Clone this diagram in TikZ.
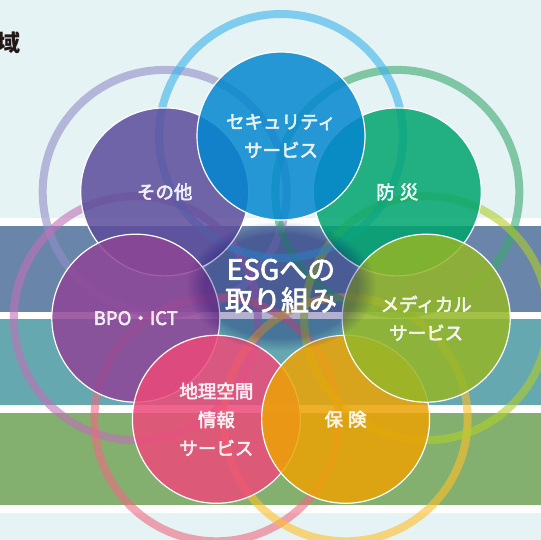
\documentclass[tikz,border=0pt]{standalone}
\usepackage{fontspec}
\setmainfont{Noto Sans CJK JP}
\usetikzlibrary{fadings}
\newcommand\strokeon[1]{\special{pdf:literal direct 2 Tr #1 w 1 1 1 RG}}
\newcommand\strokeoff{\special{pdf:literal direct 0 Tr}}
\definecolor{bg}{HTML}{E5F3F4}
\definecolor{bandA}{HTML}{6A85AA}
\definecolor{bandB}{HTML}{66A8B0}
\definecolor{bandC}{HTML}{83B06E}
\definecolor{cSec}{HTML}{0487CF}
\definecolor{cOth}{HTML}{5B4C9B}
\definecolor{cBou}{HTML}{00A46F}
\definecolor{cBpo}{HTML}{8F4597}
\definecolor{cMed}{HTML}{94B627}
\definecolor{cGeo}{HTML}{ED4A7A}
\definecolor{cIns}{HTML}{ECA304}
\definecolor{rSec}{HTML}{3DB2EC}
\definecolor{rOth}{HTML}{928CC8}
\definecolor{rBou}{HTML}{3BAA70}
\definecolor{rMed}{HTML}{B1CE29}
\definecolor{rIns}{HTML}{FFBF29}
\definecolor{rGeo}{HTML}{F06983}
\definecolor{rBpo}{HTML}{C070B8}
\definecolor{titlecol}{HTML}{231815}
\tikzset{
  ringc/.style={circle, minimum size=244pt, inner sep=0pt, line width=8pt, draw opacity=0.6},
  bubble/.style={circle, minimum size=168pt, inner sep=0pt, fill opacity=0.85, draw=white, line width=1.2pt, text=white, align=center, font=\fontsize{18.5}{28.5}\selectfont,
    execute at begin node=\strokeon{0.45}, execute at end node=\strokeoff},
}
\begin{document}
\begin{tikzpicture}[x=1pt,y=-1pt]
\useasboundingbox (0,0) rectangle (541,540);
% background and bands
\fill[bg] (0,0) rectangle (541,540);
\fill[white] (0,218) rectangle (541,513);
\fill[bandA] (0,226.5) rectangle (541,311.5);
\fill[bandB] (0,319) rectangle (541,405);
\fill[bandC] (0,412.5) rectangle (541,505);
% title fragment
\node[anchor=east, inner sep=0pt, text=titlecol, font=\bfseries\fontsize{23}{23}\selectfont] (title) at (21,43) {域};
% coordinates
\coordinate (pSec) at (281,136);
\coordinate (pOth) at (164.7,191.9);
\coordinate (pBpo) at (135.8,318.2);
\coordinate (pGeo) at (216.4,419.3);
\coordinate (pIns) at (345.6,419.3);
\coordinate (pMed) at (426.2,318.2);
\coordinate (pBou) at (397.3,191.9);
% rings
\node[ringc, draw=rOth] (ringOth) at (pOth) {};
\node[ringc, draw=rBpo] (ringBpo) at (pBpo) {};
\node[ringc, draw=rGeo] (ringGeo) at (pGeo) {};
\node[ringc, draw=rIns] (ringIns) at (pIns) {};
\node[ringc, draw=rBou] (ringBou) at (pBou) {};
\node[ringc, draw=rMed] (ringMed) at (pMed) {};
\node[ringc, draw=rSec] (ringSec) at (pSec) {};
% bubbles
\node[bubble, fill=cOth] (oth) at (pOth) {その他};
\node[bubble, fill=cBpo] (bpo) at (pBpo) {BPO・ICT};
\node[bubble, fill=cGeo] (geo) at (pGeo) {地理空間\\情報\\サービス};
\node[bubble, fill=cIns] (ins) at (pIns) {保\hspace{5pt}険};
\node[bubble, fill=cBou] (bou) at (pBou) {防\hspace{5pt}災};
\node[bubble, fill=cMed] (med) at (pMed) {メディカル\\サービス};
\node[bubble, fill=cSec] (sec) at (pSec) {セキュリティ\\サービス};
% centre shadow and text
\fill[black!60!blue, opacity=0.3, path fading=circle with fuzzy edge 20 percent] (281,286) ellipse [x radius=95pt, y radius=65pt];
\node[text=white, align=center, inner sep=0pt, font=\fontsize{28}{31}\selectfont,
  execute at begin node=\strokeon{0.7}, execute at end node=\strokeoff] (esg) at (281,286) {ESGへの\\取り組み};
\end{tikzpicture}
\end{document}
